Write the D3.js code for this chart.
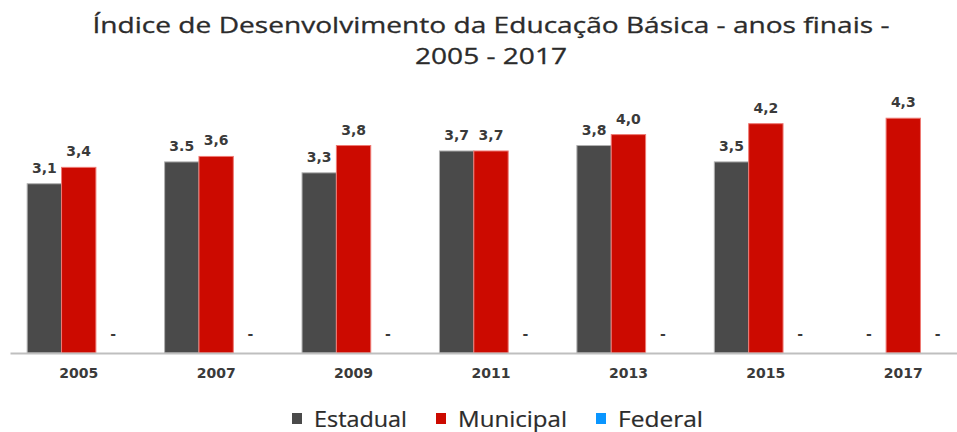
<!DOCTYPE html>
<html>
<head>
<meta charset="utf-8">
<script src="https://cdn.jsdelivr.net/npm/d3@7"></script>
<style>
    body { margin: 0; background: #fff; }
    svg { display: block; }
</style>
</head>
<body>
<div id="chart"></div>
<script>
// Data
const titleLines = ['Índice de Desenvolvimento da Educação Básica - anos finais -', '2005 - 2017'];
const categories = ['2005', '2007', '2009', '2011', '2013', '2015', '2017'];
const seriesNames = ['Estadual', 'Municipal', 'Federal'];
const estadual = [3.1, 3.5, 3.3, 3.7, 3.8, 3.5, null];
const municipal = [3.4, 3.6, 3.8, 3.7, 4.0, 4.2, 4.3];
const federal = [null, null, null, null, null, null, null];
const estadualLabels = ['3,1', '3.5', '3,3', '3,7', '3,8', '3,5', '-'];
const municipalLabels = ['3,4', '3,6', '3,8', '3,7', '4,0', '4,2', '4,3'];
const federalLabels = ['-', '-', '-', '-', '-', '-', '-'];

const colors = { Estadual: '#4a4a4a', Municipal: '#cc0a00', Federal: '#0a96ff' };
const strokes = { Estadual: '#b0b0b0', Municipal: '#ee7a74', Federal: '#7cc4ff' };

const W = 957, H = 432;
const margin = { left: 10, right: -15, top: 80, bottom: 79 };
const baseline = H - margin.bottom; // 353

const svg = d3.select('#chart').append('svg').attr('width', W).attr('height', H);

// Title - the reference is stretched sideways, so glyphs are stretched to its line lengths
const titleWidths = [797, 152];
svg.append('g').attr('class', 'title')
    .selectAll('text').data(titleLines).enter()
    .append('text')
    .attr('x', 491)
    .attr('y', (d, i) => 33 + i * 31)
    .attr('text-anchor', 'middle')
    .attr('font-family', 'Open Sans, sans-serif')
    .attr('font-size', 22)
    .attr('fill', '#2b2b2b')
    .attr('stroke', '#2b2b2b')
    .attr('stroke-width', 0.3)
    .attr('textLength', (d, i) => titleWidths[i])
    .attr('lengthAdjust', 'spacingAndGlyphs')
    .text(d => d);

// Scales
const x0 = d3.scaleBand().domain(categories)
    .range([margin.left, W - margin.right])
    .paddingInner(0.25).paddingOuter(0.125);
const x1 = d3.scaleBand().domain(seriesNames).range([0, x0.bandwidth()]);
const y = d3.scaleLinear().domain([0, 5]).range([baseline, margin.top]);

// Flatten into per-category groups
const values = { Estadual: estadual, Municipal: municipal, Federal: federal };
const labels = { Estadual: estadualLabels, Municipal: municipalLabels, Federal: federalLabels };
const data = categories.map((c, i) => ({
    key: c,
    values: seriesNames.map(s => ({ series: s, value: values[s][i], label: labels[s][i] }))
}));

const groups = svg.selectAll('.data-block').data(data).enter()
    .append('g').attr('class', 'data-block')
    .attr('transform', d => 'translate(' + x0(d.key) + ',0)');

groups.selectAll('rect').data(d => d.values.filter(v => v.value != null)).enter()
    .append('rect')
    .attr('x', d => x1(d.series))
    .attr('y', d => y(d.value))
    .attr('width', x1.bandwidth())
    .attr('height', d => y(0) - y(d.value))
    .attr('fill', d => colors[d.series])
    .attr('stroke', d => strokes[d.series])
    .attr('stroke-width', 1);

groups.selectAll('text').data(d => d.values).enter()
    .append('text')
    .attr('x', d => x1(d.series) + x1.bandwidth() / 2)
    .attr('y', d => y(d.value == null ? 0 : d.value) - (d.value == null ? 14 : 11))
    .attr('text-anchor', 'middle')
    .attr('font-family', 'DejaVu Sans, sans-serif')
    .attr('font-weight', 'bold')
    .attr('font-size', 14)
    .attr('fill', '#3a3a3a')
    .text(d => d.label);

// Axis
const xAxis = svg.append('g').attr('class', 'x-axis')
    .attr('transform', 'translate(0,' + baseline + ')')
    .call(d3.axisBottom(x0).tickSize(0).tickPadding(15));
xAxis.select('.domain').attr('stroke', '#bfbfbf').attr('stroke-width', 2);
xAxis.selectAll('text')
    .attr('font-family', 'DejaVu Sans, sans-serif')
    .attr('font-weight', 'bold')
    .attr('font-size', 14)
    .attr('fill', '#3a3a3a');

// Legend
const legendX = [292, 436, 596];
const legendWidths = [93, 109, 85];
const legend = svg.append('g').attr('class', 'legend')
    .selectAll('g').data(seriesNames).enter()
    .append('g')
    .attr('transform', (d, i) => 'translate(' + legendX[i] + ',0)');
legend.append('rect')
    .attr('x', 0).attr('y', 413)
    .attr('width', 10).attr('height', 11)
    .attr('fill', d => colors[d]);
legend.append('text')
    .attr('x', 22).attr('y', 427)
    .attr('font-family', 'Open Sans, sans-serif')
    .attr('font-size', 21)
    .attr('fill', '#2b2b2b')
    .attr('stroke', '#2b2b2b')
    .attr('stroke-width', 0.2)
    .attr('textLength', (d, i) => legendWidths[i])
    .attr('lengthAdjust', 'spacingAndGlyphs')
    .text(d => d);
</script>
</body>
</html>
